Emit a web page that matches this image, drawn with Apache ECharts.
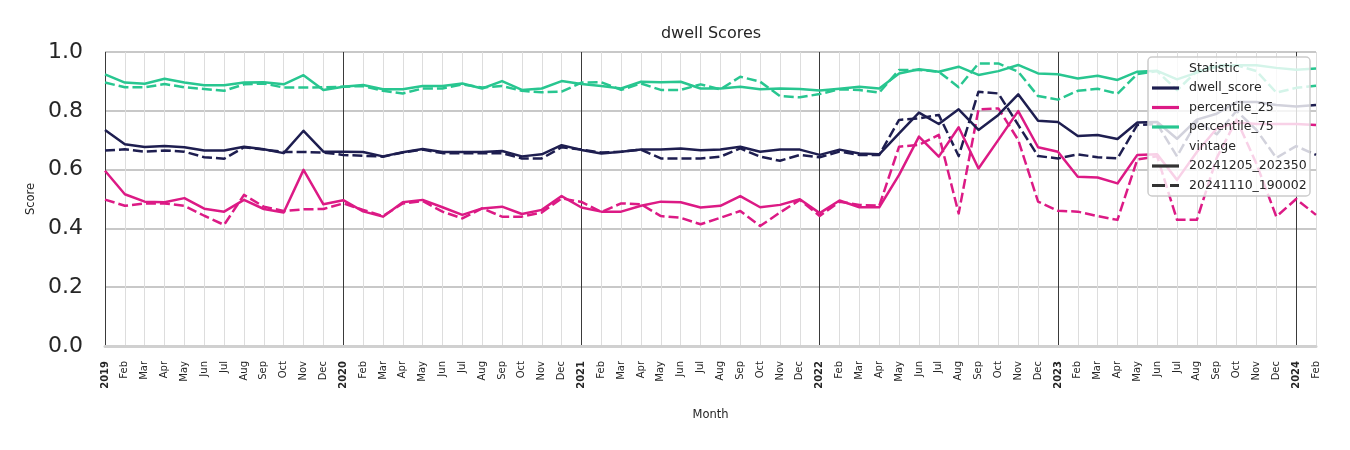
<!DOCTYPE html>
<html>
<head>
<meta charset="utf-8">
<script src="https://cdn.jsdelivr.net/npm/echarts@6/dist/echarts.min.js"></script>
<style>
  html, body { margin: 0; padding: 0; background: #fff; }
  #chart { width: 1350px; height: 450px; }
</style>
</head>
<body>
<div id="chart"></div>
<script>
// month axis: Jan 2019 .. Feb 2024
const years = ['2019', '2020', '2021', '2022', '2023', '2024']
const monthNames = ['Jan', 'Feb', 'Mar', 'Apr', 'May', 'Jun', 'Jul', 'Aug', 'Sep', 'Oct', 'Nov', 'Dec']
const months = []
years.forEach(y => monthNames.forEach(m => months.push(y + '-' + m)))
months.splice(62) // last month is 2024-Feb

const yTicks = [0, 0.2, 0.4, 0.6, 0.8, 1.0]

// vintage 20241205_202350 (solid)
const dwellNew = [
  0.735, 0.686, 0.677, 0.680, 0.676, 0.665, 0.665, 0.678, 0.669, 0.656, 0.732, 0.661,
  0.661, 0.660, 0.645, 0.659, 0.670, 0.660, 0.660, 0.660, 0.663, 0.645, 0.652, 0.683,
  0.667, 0.655, 0.661, 0.668, 0.668, 0.672, 0.666, 0.668, 0.678, 0.661, 0.668, 0.668,
  0.650, 0.668, 0.655, 0.652, 0.723, 0.794, 0.755, 0.805, 0.735, 0.786, 0.856, 0.766,
  0.762, 0.714, 0.718, 0.704, 0.760, 0.762, 0.705, 0.770, 0.790, 0.830, 0.830, 0.820,
  0.815, 0.820
]
const p25New = [
  0.596, 0.516, 0.491, 0.489, 0.503, 0.467, 0.457, 0.497, 0.466, 0.454, 0.599, 0.482,
  0.496, 0.458, 0.440, 0.489, 0.497, 0.472, 0.446, 0.468, 0.474, 0.449, 0.463, 0.510,
  0.471, 0.457, 0.457, 0.477, 0.491, 0.489, 0.471, 0.477, 0.510, 0.472, 0.480, 0.499,
  0.452, 0.495, 0.472, 0.472, 0.582, 0.712, 0.644, 0.744, 0.604, 0.701, 0.799, 0.676,
  0.661, 0.576, 0.573, 0.553, 0.650, 0.652, 0.565, 0.660, 0.740, 0.760, 0.755, 0.755,
  0.755, 0.752
]
const p75New = [
  0.924, 0.896, 0.892, 0.909, 0.896, 0.887, 0.887, 0.896, 0.897, 0.890, 0.921, 0.871,
  0.882, 0.888, 0.873, 0.873, 0.884, 0.884, 0.893, 0.876, 0.901, 0.871, 0.876, 0.901,
  0.891, 0.884, 0.876, 0.899, 0.897, 0.899, 0.876, 0.876, 0.882, 0.873, 0.876, 0.874,
  0.869, 0.875, 0.882, 0.876, 0.927, 0.941, 0.933, 0.950, 0.922, 0.935, 0.956, 0.927,
  0.924, 0.910, 0.919, 0.905, 0.933, 0.936, 0.907, 0.930, 0.950, 0.955, 0.955, 0.946,
  0.940, 0.944
]

// vintage 20241110_190002 (dashed)
const dwellOld = [
  0.665, 0.669, 0.661, 0.665, 0.661, 0.642, 0.637, 0.676, 0.668, 0.660, 0.660, 0.658,
  0.650, 0.647, 0.644, 0.658, 0.668, 0.656, 0.656, 0.656, 0.656, 0.638, 0.638, 0.676,
  0.668, 0.658, 0.661, 0.668, 0.638, 0.638, 0.638, 0.644, 0.672, 0.644, 0.630, 0.650,
  0.642, 0.661, 0.650, 0.650, 0.769, 0.774, 0.786, 0.646, 0.865, 0.859, 0.752, 0.646,
  0.638, 0.652, 0.642, 0.638, 0.752, 0.755, 0.645, 0.765, 0.720, 0.800, 0.735, 0.640,
  0.680, 0.650
]
const p25Old = [
  0.498, 0.477, 0.485, 0.485, 0.477, 0.443, 0.412, 0.514, 0.474, 0.459, 0.465, 0.466,
  0.485, 0.463, 0.442, 0.485, 0.493, 0.457, 0.434, 0.468, 0.440, 0.440, 0.454, 0.502,
  0.490, 0.456, 0.485, 0.482, 0.442, 0.436, 0.414, 0.436, 0.459, 0.408, 0.454, 0.497,
  0.442, 0.491, 0.480, 0.477, 0.678, 0.684, 0.718, 0.451, 0.805, 0.808, 0.701, 0.491,
  0.460, 0.457, 0.442, 0.429, 0.635, 0.645, 0.429, 0.429, 0.640, 0.770, 0.620, 0.440,
  0.500, 0.446
]
const p75Old = [
  0.896, 0.880, 0.880, 0.891, 0.880, 0.874, 0.868, 0.890, 0.893, 0.879, 0.879, 0.880,
  0.882, 0.884, 0.868, 0.859, 0.876, 0.876, 0.890, 0.879, 0.884, 0.868, 0.863, 0.865,
  0.896, 0.897, 0.871, 0.893, 0.871, 0.871, 0.890, 0.873, 0.916, 0.899, 0.850, 0.846,
  0.857, 0.873, 0.871, 0.862, 0.939, 0.939, 0.933, 0.880, 0.961, 0.961, 0.933, 0.850,
  0.838, 0.868, 0.875, 0.858, 0.925, 0.935, 0.870, 0.935, 0.955, 0.955, 0.935, 0.862,
  0.878, 0.885
]

const navy = '#1e1e50'
const magenta = '#dc1a85'
const teal = '#28c690'
const font = 'DejaVu Sans'

function makeLine(name, data, color, dashed) {
  return {
    name: name,
    type: 'line',
    data: data,
    symbol: 'none',
    showSymbol: false,
    lineStyle: { color: color, width: 2.5, type: dashed ? [10, 4] : 'solid', cap: 'butt', join: 'round' },
    itemStyle: { color: color },
    emphasis: { disabled: true },
    z: dashed ? 3 : 4
  }
}

// legend box (seaborn style, two groups), drawn above the lines
const legendRows = [
  { text: 'Statistic' },
  { text: 'dwell_score', color: navy },
  { text: 'percentile_25', color: magenta },
  { text: 'percentile_75', color: teal },
  { text: 'vintage' },
  { text: '20241205_202350', color: '#333333' },
  { text: '20241110_190002', color: '#333333', dashed: true }
]
const legendX = 1148, legendY = 57, rowH = 19.5
const legendEls = [{
  type: 'rect',
  z: 100,
  zlevel: 1,
  shape: { x: legendX, y: legendY, width: 162, height: 139, r: 4 },
  style: { fill: 'rgba(255,255,255,0.8)', stroke: '#cccccc', lineWidth: 1.5 }
}]
legendRows.forEach((row, i) => {
  const cy = legendY + 11.5 + i * rowH
  if (row.color) {
    legendEls.push({
      type: 'line',
      z: 101,
      zlevel: 1,
      shape: { x1: legendX + 4, y1: cy, x2: legendX + 31, y2: cy },
      style: { stroke: row.color, lineWidth: 3.2, lineDash: row.dashed ? [13, 5] : null }
    })
  }
  legendEls.push({
    type: 'text',
    z: 101,
    zlevel: 1,
    style: { x: legendX + 41, y: cy, text: row.text, font: '12.5px "DejaVu Sans"', fill: '#262626', verticalAlign: 'middle' }
  })
})

const chart = echarts.init(document.getElementById('chart'))
const option = {
  animation: false,
  backgroundColor: '#ffffff',
  title: {
    text: 'dwell Scores',
    left: 711,
    top: 26,
    padding: 0,
    textAlign: 'center',
    textStyle: { fontFamily: font, fontSize: 16, fontWeight: 'normal', color: '#262626' }
  },
  grid: { left: 105, right: 34, top: 52, bottom: 104, containLabel: false },
  xAxis: {
    type: 'category',
    data: months,
    boundaryGap: false,
    name: 'Month',
    nameLocation: 'middle',
    nameGap: 63,
    nameTextStyle: { fontFamily: font, fontSize: 11.5, color: '#262626' },
    axisLine: { show: true, onZero: true, lineStyle: { color: '#d0d0d0', width: 3 } },
    axisTick: { show: false },
    axisLabel: {
      interval: 0,
      rotate: 90,
      margin: 15,
      fontFamily: font,
      fontSize: 10,
      color: '#262626',
      formatter: v => v.endsWith('Jan') ? '{y|' + v.slice(0, 4) + '}' : v.slice(5),
      rich: { y: { fontFamily: font, fontSize: 10, fontWeight: 'bold', color: '#262626' } }
    },
    splitLine: {
      show: true,
      interval: 0,
      lineStyle: {
        width: 1,
        color: ['#3a3a3a', '#dddddd', '#dddddd', '#dddddd', '#dddddd', '#dddddd', '#dddddd',
                '#dddddd', '#dddddd', '#dddddd', '#dddddd', '#dddddd']
      }
    }
  },
  yAxis: {
    type: 'value',
    min: yTicks[0],
    max: yTicks[yTicks.length - 1],
    interval: 0.2,
    name: 'Score',
    nameLocation: 'middle',
    nameGap: 66,
    nameTextStyle: { fontFamily: font, fontSize: 11.5, color: '#262626' },
    axisLine: { show: false },
    axisTick: { show: false },
    axisLabel: {
      margin: 22,
      fontFamily: font,
      fontSize: 22,
      color: '#262626',
      formatter: v => v.toFixed(1)
    },
    splitLine: { show: true, lineStyle: { color: '#c8c8c8', width: 2 } }
  },
  graphic: [{ type: 'group', z: 100, zlevel: 1, children: legendEls }],
  series: [
    makeLine('dwell_score (20241110_190002)', dwellOld, navy, true),
    makeLine('percentile_25 (20241110_190002)', p25Old, magenta, true),
    makeLine('percentile_75 (20241110_190002)', p75Old, teal, true),
    makeLine('dwell_score (20241205_202350)', dwellNew, navy, false),
    makeLine('percentile_25 (20241205_202350)', p25New, magenta, false),
    makeLine('percentile_75 (20241205_202350)', p75New, teal, false)
  ]
}
chart.setOption(option)
</script>
</body>
</html>
